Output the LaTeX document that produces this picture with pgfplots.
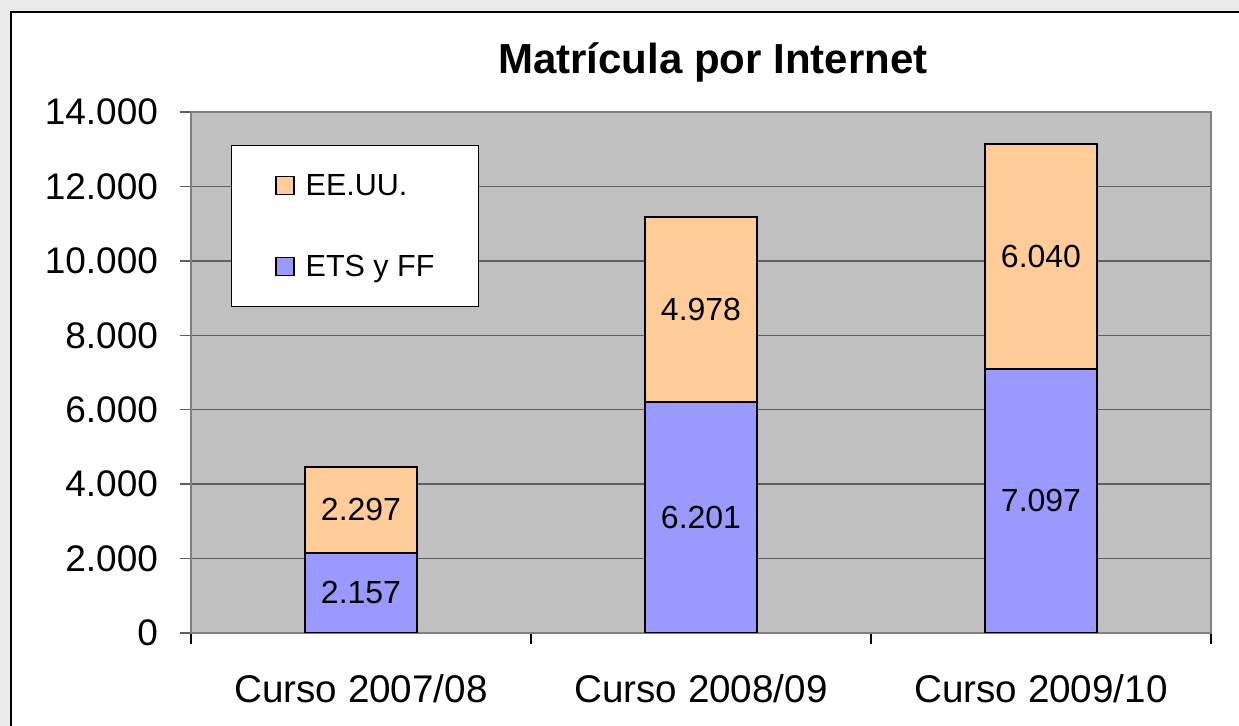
\documentclass[border=0pt]{standalone}
\usepackage{fontspec}
\setmainfont{Liberation Sans}
\usepackage{pgfplots}
\pgfplotsset{compat=1.18}
\definecolor{plotgray}{HTML}{C0C0C0}
\definecolor{bgout}{HTML}{EAEAEA}
\definecolor{orangebar}{HTML}{FFCC99}
\definecolor{bluebar}{HTML}{9999FF}
\definecolor{gridc}{HTML}{5F5F5F}
\definecolor{axisc}{HTML}{808080}
\pgfplotsset{sqlegend/.style={legend image code/.code={\draw[##1,draw=black,line width=0.6pt] (0pt,-4.5pt) rectangle (9pt,4.5pt);}}}
\begin{document}
\begin{tikzpicture}
\useasboundingbox (0,0) rectangle (619.5pt,363pt);
\clip (0,0) rectangle (619.5pt,363pt);
\fill[bgout] (0,0) rectangle (619.5pt,363pt);
\filldraw[fill=white,draw=black,line width=1pt] (5.5pt,-10pt) rectangle (640pt,357pt);
\node[font=\fontsize{21}{25}\selectfont\bfseries] at (356.5pt,332pt) {Matrícula por Internet};
\begin{axis}[
  at={(95.5pt,46.5pt)}, anchor=south west,
  scale only axis, width=510pt, height=260.5pt,
  ybar stacked, bar width=56pt,
  xmin=-0.5, xmax=2.5, ymin=0, ymax=14000,
  axis background/.style={fill=plotgray},
  axis line style={draw=axisc,line width=1pt},
  tick pos=left,
  xtick={-0.5,0.5,1.5,2.5},
  xticklabels={},
  x tick style={draw=black,line width=0.6pt},
  extra x ticks={0,1,2},
  extra x tick labels={Curso 2007/08,Curso 2008/09,Curso 2009/10},
  extra x tick style={grid=none, major tick length=0pt},
  ytick={0,2000,...,14000},
  tick align=outside, major tick length=5.5pt,
  y tick style={draw=gridc,line width=0.75pt},
  ymajorgrids, major grid style={draw=gridc,line width=0.75pt},
  y tick label style={font=\fontsize{18.5}{22}\selectfont, xshift=-7.5pt},
  x tick label style={font=\fontsize{19.3}{23}\selectfont, yshift=-17pt},
  scaled y ticks=false,
  /pgf/number format/.cd, 1000 sep={.}, assume math mode=true, /pgfplots/.cd,
  legend style={at={(0.0392,0.9367)}, anchor=north west, draw=black, line width=0.5pt, fill=white,
    font=\fontsize{15.25}{18}\selectfont, inner xsep=22pt, inner ysep=12pt, row sep=24.5pt,
    column sep=5.5pt, nodes={inner sep=0pt, text height=13pt, text depth=3pt}},
  legend cell align=left,
  reverse legend,
]
\addplot[fill=bluebar, draw=black, line width=1pt, sqlegend] coordinates {(0,2157) (1,6201) (2,7097)};
\addlegendentry{ETS y FF}
\addplot[fill=orangebar, draw=black, line width=1pt, sqlegend] coordinates {(0,2297) (1,4978) (2,6040)};
\addlegendentry{EE.UU.}
\end{axis}
\begin{axis}[
  at={(95.5pt,46.5pt)}, anchor=south west,
  scale only axis, width=510pt, height=260.5pt,
  xmin=-0.5, xmax=2.5, ymin=0, ymax=14000,
  hide axis,
]
\addplot[only marks, mark=none, nodes near coords, point meta=explicit symbolic,
  every node near coord/.style={anchor=center, inner sep=0pt, font=\fontsize{16}{19}\selectfont, text=black}]
  coordinates {(0,1078.5)[2.157] (1,3100.5)[6.201] (2,3548.5)[7.097]
               (0,3305.5)[2.297] (1,8690)[4.978] (2,10117)[6.040]};
\end{axis}
\end{tikzpicture}
\end{document}
